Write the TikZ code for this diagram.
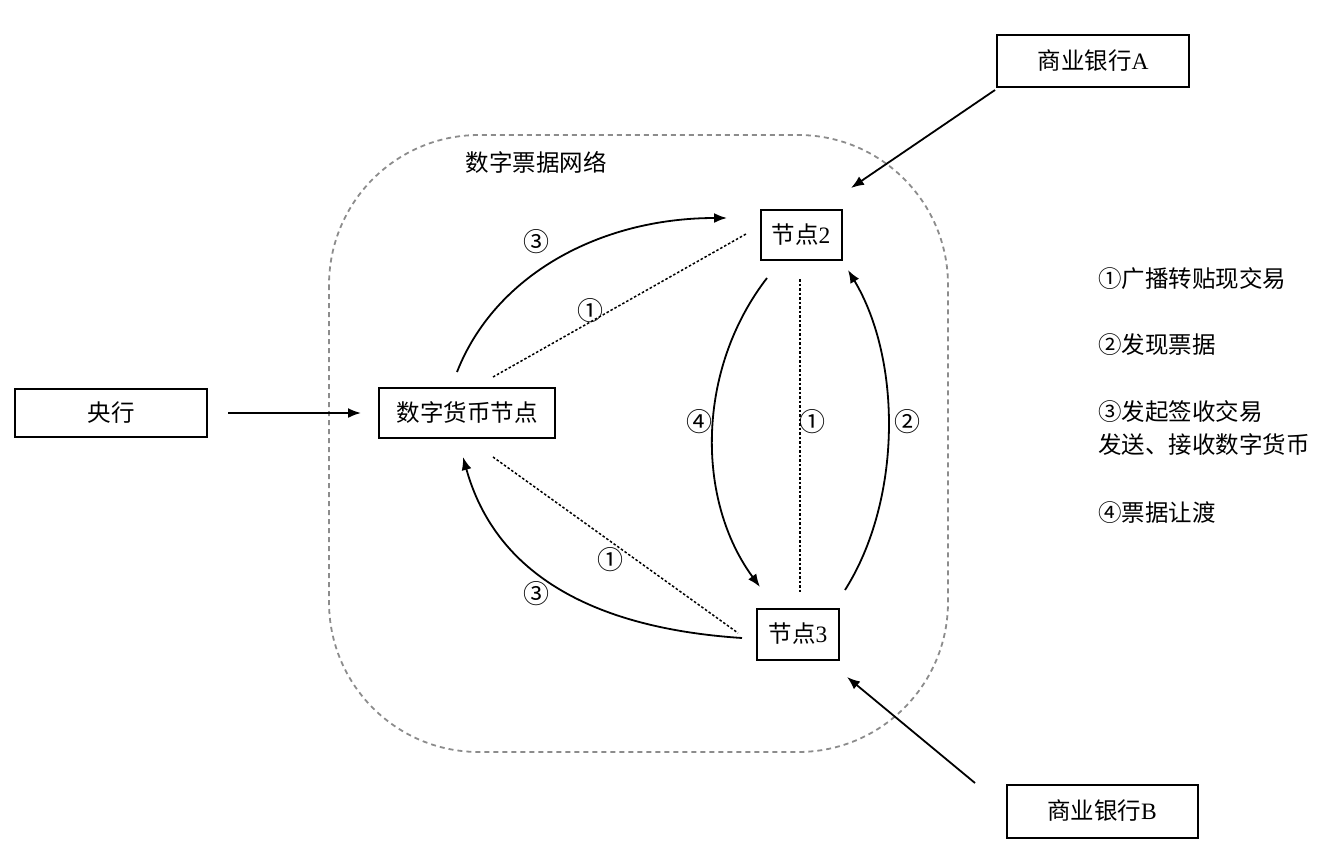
\documentclass[tikz,border=0pt]{standalone}
\usepackage{fontspec}
\setmainfont{Liberation Serif}
\newfontfamily\cjk{Noto Sans CJK SC}
\usetikzlibrary{arrows.meta}
\tikzset{
  box/.style={draw, line width=2pt, inner sep=0pt, font=\fontsize{23.5}{27}\selectfont},
  arr/.style={line width=1.8pt, -{Latex[length=13pt,width=10pt]}},
  dots/.style={line width=1.5pt, dash pattern=on 2.5pt off 2pt},
  lab/.style={font=\cjk\fontsize{26}{28}\selectfont, inner sep=0pt},
  ttl/.style={font=\cjk\fontsize{23.5}{27}\selectfont, inner sep=0pt},
  leg/.style={font=\fontsize{23.5}{33}\selectfont, inner sep=0pt, anchor=west, align=left},
}
\begin{document}
\begin{tikzpicture}[x=1pt,y=-1pt]
\useasboundingbox (0,0) rectangle (1330,864);
% network area
\draw[gray!90, line width=1.8pt, dash pattern=on 5pt off 4pt, rounded corners=150pt]
  (329,135) rectangle (948,752);
\node[ttl] (net) at (536,162) {数字票据网络};
% boxes
\node[box, minimum width=192pt, minimum height=48pt] (yh) at (111,413) {\cjk 央行};
\node[box, minimum width=176pt, minimum height=50pt] (dc) at (467,413) {\cjk 数字货币节点};
\node[box, minimum width=81pt, minimum height=50pt] (n2) at (801,235) {{\cjk 节点}2};
\node[box, minimum width=82pt, minimum height=51pt] (n3) at (798,634) {{\cjk 节点}3};
\node[box, minimum width=192pt, minimum height=52pt] (ba) at (1093,61) {{\cjk 商业银行}A};
\node[box, minimum width=191pt, minimum height=53pt] (bb) at (1102,811) {{\cjk 商业银行}B};
% straight arrows
\draw[arr, shorten <=20pt, shorten >=17pt] (yh.east) -- (dc.west);
\coordinate (aS) at (995,90);  \coordinate (aE) at (851,188);
\draw[arr] (aS) -- (aE);
\coordinate (bS) at (975,783); \coordinate (bE) at (847,677);
\draw[arr] (bS) -- (bE);
% curved arrows
\coordinate (t3s) at (457,372); \coordinate (t3e) at (727,218);
\draw[arr] (t3s) .. controls (495,275) and (600,218) .. (t3e);
\node[lab] (l3a) at (536,242) {③};
\coordinate (b3s) at (742,638); \coordinate (b3e) at (463,457);
\draw[arr] (b3s) .. controls (620,630) and (500,590) .. (b3e);
\node[lab] (l3b) at (536,594) {③};
\coordinate (f4s) at (767,278); \coordinate (f4e) at (760,587);
\draw[arr] (f4s) .. controls (696,370) and (696,500) .. (f4e);
\node[lab] (l4) at (699,422) {④};
\coordinate (f2s) at (845,590); \coordinate (f2e) at (848,270);
\draw[arr] (f2s) .. controls (902,500) and (902,360) .. (f2e);
\node[lab] (l2) at (907,422) {②};
% dotted lines
\coordinate (d1s) at (493,377); \coordinate (d1e) at (746,234);
\draw[dots] (d1s) -- (d1e);
\node[lab] (l1a) at (590,311) {①};
\coordinate (d2s) at (493,457); \coordinate (d2e) at (738,633);
\draw[dots] (d2s) -- (d2e);
\node[lab] (l1b) at (610,560) {①};
\coordinate (d3s) at (800,279); \coordinate (d3e) at (800,592);
\draw[dots, line width=2pt] (d3s) -- (d3e);
\node[lab] (l1c) at (812,422) {①};
% legend
\node[leg] (g1) at (1098,279) {\cjk ①广播转贴现交易};
\node[leg] (g2) at (1098,345) {\cjk ②发现票据};
\node[leg] (g3) at (1098,428) {\cjk ③发起签收交易\\\cjk 发送、接收数字货币};
\node[leg] (g4) at (1098,513) {\cjk ④票据让渡};
\end{tikzpicture}
\end{document}
